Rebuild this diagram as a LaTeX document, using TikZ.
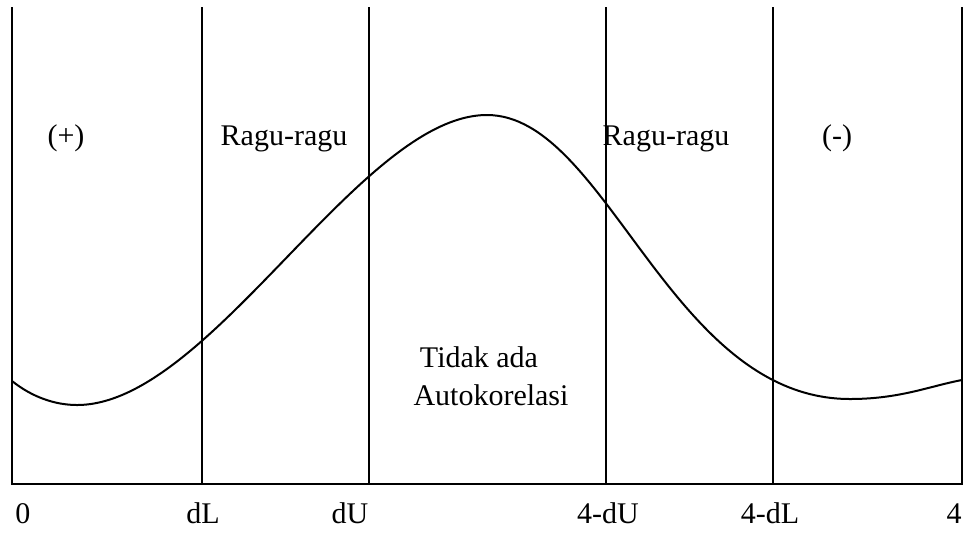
\documentclass[tikz,border=0pt]{standalone}
\usepackage{fontspec}
\setmainfont{Liberation Serif}
\begin{document}
\begin{tikzpicture}[x=0.5pt,y=-0.5pt,
  ln/.style={line width=1pt},
  lbl/.style={font=\fontsize{15}{18}\selectfont, inner sep=0pt, anchor=base}]
\useasboundingbox (0,0) rectangle (968,532);
% vertical lines and base line
\coordinate (t0) at (12,7);   \coordinate (b0) at (12,484);
\coordinate (t1) at (202,7);  \coordinate (b1) at (202,484);
\coordinate (t2) at (369,7);  \coordinate (b2) at (369,484);
\coordinate (t3) at (606,7);  \coordinate (b3) at (606,484);
\coordinate (t4) at (773,7);  \coordinate (b4) at (773,484);
\coordinate (t5) at (962,7);  \coordinate (b5) at (962,484);
\foreach \i in {0,...,5} \draw[ln] (t\i) -- (b\i);
\draw[ln] (11,484) -- (963,484);
% curve
\coordinate (c0) at (12,381);
\coordinate (m1) at (77,405);
\coordinate (pk) at (487,115);
\coordinate (m2) at (850,399);
\coordinate (c1) at (962,380);
\draw[ln, line join=round]
  (c0) .. controls (32,397) and (55,405) .. (m1)
       .. controls (210,405) and (360,115) .. (pk)
       .. controls (607,115) and (670,399) .. (m2)
       .. controls (900,399) and (930,386) .. (c1);
% region labels
\node[lbl] (plus) at (66,145) {(+)};
\node[lbl] (rr1) at (284,145) {Ragu-ragu};
\node[lbl] (rr2) at (666,145) {Ragu-ragu};
\node[lbl] (minus) at (837,145) {(-)};
\node[lbl] (tid) at (479,367) {Tidak ada};
\node[lbl] (auto) at (491,405) {Autokorelasi};
% axis labels
\node[lbl] (a0) at (23,523) {0};
\node[lbl] (a1) at (203,523) {dL};
\node[lbl] (a2) at (350,523) {dU};
\node[lbl] (a3) at (608,523) {4-dU};
\node[lbl] (a4) at (770,523) {4-dL};
\node[lbl] (a5) at (954,523) {4};
\end{tikzpicture}
\end{document}
